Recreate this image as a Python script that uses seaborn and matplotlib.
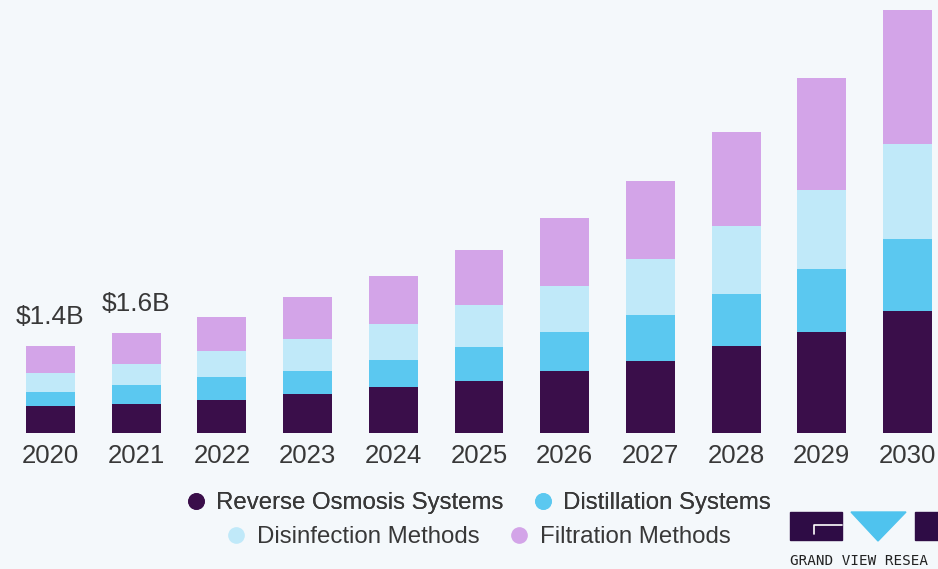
import numpy as np
import pandas as pd
import matplotlib
matplotlib.use("Agg")
import matplotlib.pyplot as plt
from matplotlib.lines import Line2D
from matplotlib.patches import Rectangle, Polygon
import seaborn as sns

# Market size by segment, USD billion
years = ["2020", "2021", "2022", "2023", "2024", "2025", "2026", "2027", "2028", "2029", "2030"]
reverse_osmosis = [0.43, 0.46, 0.53, 0.62, 0.73, 0.84, 1.00, 1.15, 1.40, 1.61, 1.95]
distillation = [0.23, 0.31, 0.36, 0.38, 0.44, 0.53, 0.61, 0.74, 0.82, 1.01, 1.16]
disinfection = [0.30, 0.34, 0.42, 0.51, 0.57, 0.68, 0.75, 0.90, 1.10, 1.27, 1.52]
filtration = [0.44, 0.49, 0.55, 0.66, 0.78, 0.88, 1.08, 1.24, 1.49, 1.79, 2.14]
segments = ["Reverse Osmosis Systems", "Distillation Systems",
            "Disinfection Methods", "Filtration Methods"]
labelled_years = ["2020", "2021"]

colors = ["#3a0e4a", "#5bc8f0", "#c0e9f9", "#d3a4e8"]
bg = "#f4f8fb"
text_col = "#383838"

sns.set_theme(style="white")
plt.rcParams["font.family"] = ["Liberation Sans", "DejaVu Sans"]

df = pd.DataFrame({"year": years,
                   segments[0]: reverse_osmosis,
                   segments[1]: distillation,
                   segments[2]: disinfection,
                   segments[3]: filtration})
cum = df[segments].cumsum(axis=1)
df["total"] = cum[segments[-1]]

fig = plt.figure(figsize=(9.38, 5.69), dpi=100, facecolor=bg)
ax = fig.add_axes([0, 136 / 569, 1, 433 / 569])
ax.set_facecolor(bg)

# stacked bars: draw cumulative heights from the top segment down
for seg, col in reversed(list(zip(segments, colors))):
    sns.barplot(x=df["year"], y=cum[seg], color=col, saturation=1,
                width=0.57, linewidth=0, ax=ax, order=years)

ax.set_xlim(-0.589, 10.356)
ax.set_ylim(0, 433 / 62.5)
ax.set_xlabel("")
ax.set_ylabel("")
ax.set_yticks([])
for s in ax.spines.values():
    s.set_visible(False)
ax.tick_params(axis="x", length=0, pad=8, labelsize=18.5, labelcolor=text_col)

# totals for the first years
for i, yr in enumerate(years):
    if yr in labelled_years:
        tot = df["total"].iloc[i]
        ax.annotate(f"\\${tot:.1f}B", xy=(i, tot), xytext=(0, 12),
                    textcoords="offset points", ha="center", va="bottom",
                    fontsize=19, color=text_col)

# legend in two centred rows
handles = [Line2D([], [], marker="o", linestyle="none", markersize=11,
                  markerfacecolor=c, markeredgecolor=c) for c in colors]
leg_kw = dict(frameon=False, ncol=2, fontsize=17.3, handletextpad=0.4,
              columnspacing=1.2, labelcolor=text_col, handlelength=0.9)
leg1 = fig.legend(handles[:2], segments[:2], loc="center",
                  bbox_to_anchor=(478 / 938, 1 - 503 / 569), **leg_kw)
fig.add_artist(leg1)
fig.legend(handles[2:], segments[2:], loc="center",
           bbox_to_anchor=(478 / 938, 1 - 537 / 569), **leg_kw)

# publisher mark, lower right
W, H = 938, 569
def fx(px):
    return px / W
def fy(py):
    return 1 - py / H
dark = "#2e0c45"
fig.patches.append(Rectangle((fx(790), fy(540)), fx(842) - fx(790), fy(512) - fy(540),
                             transform=fig.transFigure, color=dark, zorder=5))
fig.add_artist(Line2D([fx(814), fx(814), fx(842)], [fy(534), fy(525), fy(525)],
                      transform=fig.transFigure, color="white", linewidth=1.2, zorder=6))
fig.patches.append(Polygon([(fx(851), fy(512)), (fx(906), fy(512)), (fx(878), fy(541))],
                           closed=True, transform=fig.transFigure, color="#4fc3ee", zorder=5))
fig.patches.append(Rectangle((fx(915), fy(540)), fx(940) - fx(915), fy(512) - fy(540),
                             transform=fig.transFigure, color=dark, zorder=5))
fig.text(fx(790), fy(561), "GRAND VIEW RESEA", fontsize=10.3, color="#222222",
         ha="left", va="center", family=["DejaVu Sans Mono", "DejaVu Sans"])

fig.savefig("out.png", dpi=100, facecolor=bg)
